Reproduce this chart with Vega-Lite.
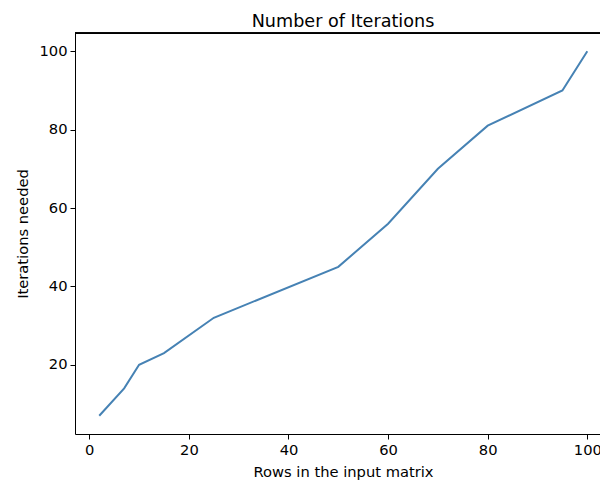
{
  "$schema": "https://vega.github.io/schema/vega-lite/v6.json",
  "width": 525,
  "height": 401,
  "autosize": {"type": "none"},
  "padding": {"left": 75, "top": 33, "right": 0, "bottom": 49},
  "background": "white",
  "title": {
    "text": "Number of Iterations",
    "font": "DejaVu Sans",
    "fontSize": 17.6,
    "fontWeight": "normal",
    "color": "black",
    "anchor": "middle",
    "frame": "group",
    "baseline": "alphabetic",
    "dx": 5.5,
    "dy": 20,
    "offset": 8
  },
  "config": {
    "view": {"stroke": null},
    "axis": {
      "grid": false,
      "domainColor": "black",
      "domainWidth": 1,
      "tickColor": "black",
      "tickWidth": 1,
      "tickSize": 5,
      "labelColor": "black",
      "labelFont": "DejaVu Sans",
      "labelFontSize": 14.7,
      "labelPadding": 3,
      "titleColor": "black",
      "titleFont": "DejaVu Sans",
      "titleFontSize": 14.7,
      "titleFontWeight": "normal"
    }
  },
  "data": {
    "values": [
      {"rows": 2, "iterations": 7},
      {"rows": 7, "iterations": 14},
      {"rows": 10, "iterations": 20},
      {"rows": 15, "iterations": 23},
      {"rows": 25, "iterations": 32},
      {"rows": 50, "iterations": 45},
      {"rows": 60, "iterations": 56},
      {"rows": 70, "iterations": 70},
      {"rows": 80, "iterations": 81},
      {"rows": 95, "iterations": 90},
      {"rows": 100, "iterations": 100}
    ]
  },
  "layer": [
    {
      "mark": {"type": "line", "color": "#4682b4", "strokeWidth": 2},
      "encoding": {
        "x": {
          "field": "rows",
          "type": "quantitative",
          "scale": {"domain": [-2.87, 102.55], "nice": false, "zero": false},
          "axis": {
            "values": [0, 20, 40, 60, 80, 100],
            "title": "Rows in the input matrix",
            "titleX": 268,
            "titleY": 42,
            "titleAlign": "center",
            "titleBaseline": "alphabetic"
          }
        },
        "y": {
          "field": "iterations",
          "type": "quantitative",
          "scale": {"domain": [2.35, 104.65], "nice": false, "zero": false},
          "axis": {
            "values": [20, 40, 60, 80, 100],
            "title": "Iterations needed",
            "titleAngle": -90,
            "titleX": -48,
            "titleY": 200.5,
            "titleAlign": "center",
            "titleBaseline": "alphabetic"
          }
        }
      }
    },
    {
      "mark": {"type": "rule", "color": "black", "strokeWidth": 1.2, "opacity": 1},
      "encoding": {
        "x": {"datum": -2.87},
        "x2": {"datum": 102.55},
        "y": {"datum": 104.55}
      }
    }
  ]
}
